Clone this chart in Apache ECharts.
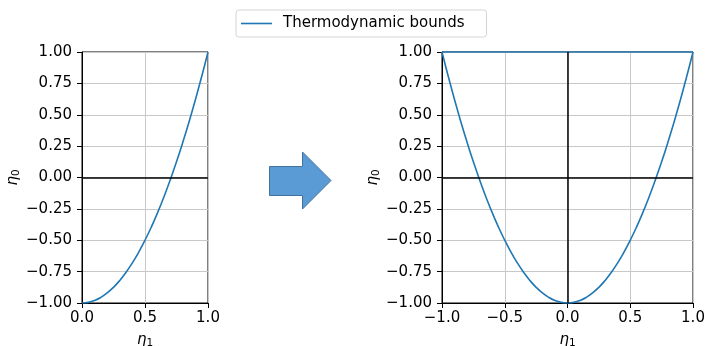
<!DOCTYPE html>
<html>
<head>
<meta charset="utf-8">
<script src="https://cdn.jsdelivr.net/npm/echarts@6/dist/echarts.min.js"></script>
<style>html,body{margin:0;padding:0;background:#fff;}#c{width:706px;height:346px;}</style>
</head>
<body>
<div id="c"></div>
<script>
// ---- data ----
var seriesName = 'Thermodynamic bounds';
var eta1 = [-1, -0.95, -0.9, -0.85, -0.8, -0.75, -0.7, -0.65, -0.6, -0.55, -0.5, -0.45, -0.4, -0.35, -0.3, -0.25, -0.2, -0.15, -0.1, -0.05,
            0, 0.05, 0.1, 0.15, 0.2, 0.25, 0.3, 0.35, 0.4, 0.45, 0.5, 0.55, 0.6, 0.65, 0.7, 0.75, 0.8, 0.85, 0.9, 0.95, 1];
var eta0 = [1, 0.805, 0.62, 0.445, 0.28, 0.125, -0.02, -0.155, -0.28, -0.395, -0.5, -0.595, -0.68, -0.755, -0.82, -0.875, -0.92, -0.955, -0.98, -0.995,
            -1, -0.995, -0.98, -0.955, -0.92, -0.875, -0.82, -0.755, -0.68, -0.595, -0.5, -0.395, -0.28, -0.155, -0.02, 0.125, 0.28, 0.445, 0.62, 0.805, 1];
var upperX = [-1, 1];
var upperY = [1, 1];

function pairs(xs, ys, keep) {
  var out = [];
  for (var i = 0; i < xs.length; i++) { if (!keep || keep(xs[i])) out.push([xs[i], ys[i]]); }
  return out;
}

var FONT = 'DejaVu Sans';
var FS = 15;
var BLUE = '#1f77b4';
var nameRich = {
  e: { fontFamily: FONT, fontSize: FS, fontStyle: 'italic', color: '#000', lineHeight: 18 },
  s: { fontFamily: FONT, fontSize: 10.5, color: '#000', lineHeight: 11, padding: [7, 0, 0, 0] }
};

function xAxisCfg(grid, min, max, interval) {
  return {
    type: 'value', gridIndex: grid, min: min, max: max, interval: interval,
    name: '{e|η}{s|1}', nameLocation: 'middle', nameGap: 25,
    nameTextStyle: { rich: nameRich },
    axisLine: { show: true, onZero: false, lineStyle: { color: '#000', width: 1 } },
    axisTick: { show: true, inside: false, length: 5, lineStyle: { color: '#000' } },
    axisLabel: { fontFamily: FONT, fontSize: FS, color: '#000', margin: 8,
      formatter: function (v) { return (v < 0 ? '\u2212' : '') + Math.abs(v).toFixed(1); } },
    splitLine: { show: true, lineStyle: { color: '#c8c8c8', width: 1 } }
  };
}
function yAxisCfg(grid) {
  return {
    type: 'value', gridIndex: grid, min: -1, max: 1, interval: 0.25,
    name: '{e|η}{s|0}', nameLocation: 'middle', nameGap: 59, nameRotate: 90,
    nameTextStyle: { rich: nameRich },
    axisLine: { show: true, onZero: false, lineStyle: { color: '#000', width: 1 } },
    axisTick: { show: true, inside: false, length: 5, lineStyle: { color: '#000' } },
    axisLabel: { fontFamily: FONT, fontSize: FS, color: '#000', margin: 10,
      formatter: function (v) { return (v < 0 ? '\u2212' : '') + Math.abs(v).toFixed(2); } },
    splitLine: { show: true, lineStyle: { color: '#c8c8c8', width: 1 } }
  };
}

var lineStyle = { color: BLUE, width: 1.6 };
var zeroLine = { color: '#000', width: 1.5, type: 'solid' };

var option = {
  animation: false,
  backgroundColor: '#fff',
  legend: {
    data: [{ name: seriesName, icon: 'rect' }],
    left: 236, top: 10,
    itemWidth: 31, itemHeight: 1.6,
    padding: [6, 22, 6, 5],
    borderColor: '#d4d4d4', borderWidth: 1, borderRadius: 3,
    backgroundColor: '#fff',
    textStyle: { fontFamily: FONT, fontSize: FS, color: '#000', padding: [0, 0, 0, 6] }
  },
  grid: [
    { left: 82, top: 52, width: 126, height: 251, show: true, borderColor: '#000', borderWidth: 1, backgroundColor: 'transparent', containLabel: false, outerBoundsMode: 'none' },
    { left: 442, top: 52, width: 251, height: 251, show: true, borderColor: '#000', borderWidth: 1, backgroundColor: 'transparent', containLabel: false, outerBoundsMode: 'none' }
  ],
  xAxis: [xAxisCfg(0, 0, 1, 0.5), xAxisCfg(1, -1, 1, 0.5)],
  yAxis: [yAxisCfg(0), yAxisCfg(1)],
  series: [
    {
      name: seriesName, type: 'line', xAxisIndex: 0, yAxisIndex: 0,
      data: pairs(eta1, eta0, function (x) { return x >= 0; }),
      showSymbol: false, symbol: 'none', smooth: true, lineStyle: lineStyle, itemStyle: { color: BLUE }, z: 3,
      markLine: { silent: true, symbol: 'none', label: { show: false }, lineStyle: zeroLine, data: [{ yAxis: 0 }] }
    },
    {
      name: seriesName, type: 'line', xAxisIndex: 1, yAxisIndex: 1,
      data: pairs(eta1, eta0),
      showSymbol: false, symbol: 'none', smooth: true, lineStyle: lineStyle, itemStyle: { color: BLUE }, z: 3,
      markLine: { silent: true, symbol: 'none', label: { show: false }, lineStyle: zeroLine, data: [{ yAxis: 0 }, { xAxis: 0 }] }
    },
    {
      name: seriesName, type: 'line', xAxisIndex: 1, yAxisIndex: 1,
      data: pairs(upperX, upperY),
      showSymbol: false, symbol: 'none', lineStyle: lineStyle, itemStyle: { color: BLUE }, z: 4
    }
  ],
  graphic: [
    {
      type: 'polygon',
      shape: { points: [[269.5, 166.5], [302.5, 166.5], [302.5, 152], [331, 180.5], [302.5, 209], [302.5, 195.5], [269.5, 195.5]] },
      style: { fill: '#5b9bd5', stroke: '#41719c', lineWidth: 1 }
    }
  ]
};

var chart = echarts.init(document.getElementById('c'), null, { renderer: 'canvas' });
chart.setOption(option);
</script>
</body>
</html>
